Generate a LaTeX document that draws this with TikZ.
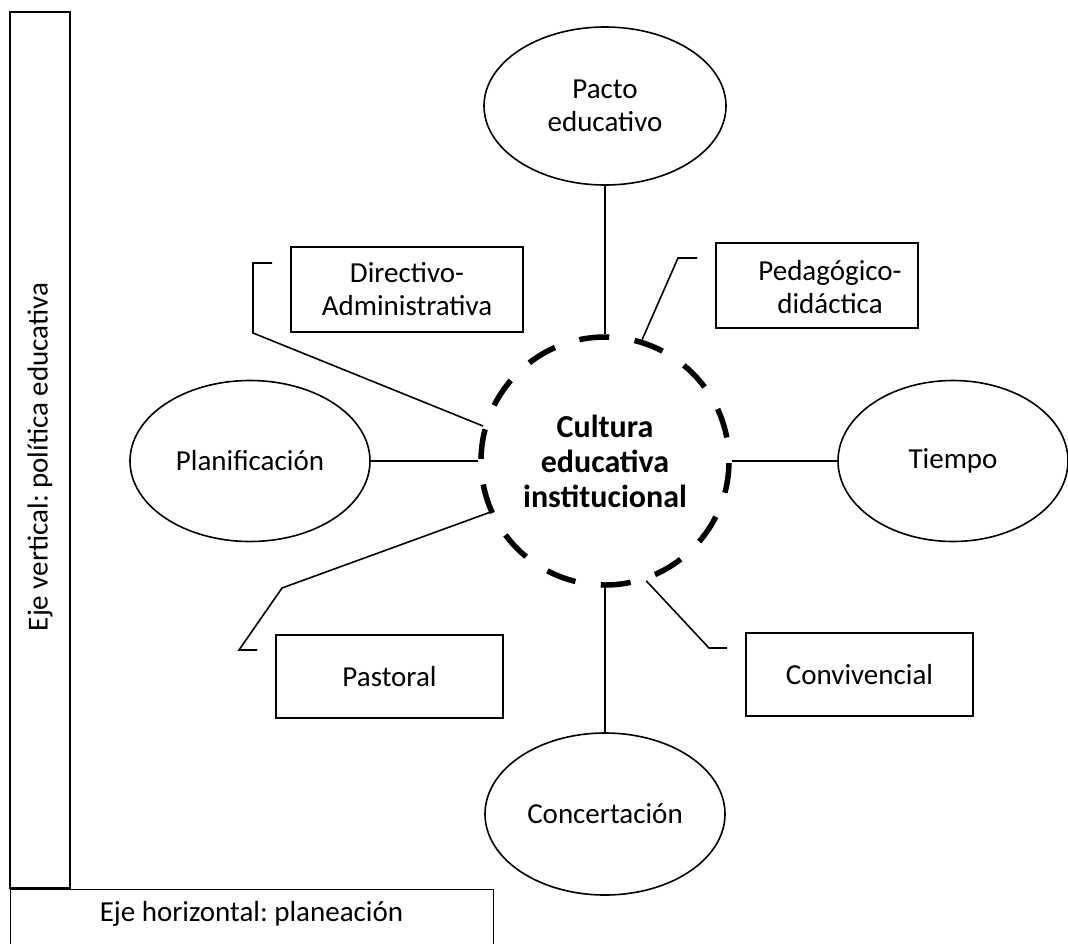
\documentclass[tikz,border=0pt]{standalone}
\usepackage{fontspec}
\setmainfont{Carlito}
\frenchspacing
\usetikzlibrary{shapes.geometric}
\begin{document}
\begin{tikzpicture}[x=1pt,y=-1pt,
  every node/.style={font=\fontsize{29}{33}\selectfont},
  oval/.style={draw, ellipse, line width=1.6pt, inner sep=0pt, align=center},
  tag/.style={draw, rectangle, line width=1.6pt, inner sep=0pt, align=center},
  frame/.style={draw, rectangle, line width=1.4pt, inner sep=0pt},
  hub/.style={draw, circle, line width=5.5pt, dash pattern=on 30pt off 25.65pt, dash phase=32pt,
              minimum size=248pt, inner sep=0pt, align=center,
              font=\fontsize{32}{35}\selectfont\bfseries},
  link/.style={line width=1.6pt}]
\useasboundingbox (0,0) rectangle (1068,943);

% axes frames
\node[frame, minimum width=60pt, minimum height=876pt] (vbox) at (40,450) {};
\node[rotate=90] (vtxt) at (40,457) {Eje vertical: política educativa};
\node[frame, minimum width=483pt, minimum height=90pt, anchor=north west] (hbox) at (10,889) {};
\node (htxt) at (251.5,914) {Eje horizontal: planeación};

% hub
\node[hub] (cult) at (605,461) {Cultura\\educativa\\institucional};

% ellipses
\node[oval, minimum width=242pt, minimum height=158pt] (pacto) at (605,106) {Pacto\\educativo};
\node[oval, minimum width=240pt, minimum height=161pt] (plan) at (250,461) {Planificación};
\node[oval, minimum width=230pt, minimum height=161pt] (tiempo) at (953,461) {Tiempo};
\node[oval, minimum width=240pt, minimum height=162pt] (conc) at (605,814) {Concertación};

% boxes
\node[tag, minimum width=232pt, minimum height=85pt] (dir) at (407,289.5) {Directivo-\\Administrativa};
\node[tag, minimum width=202pt, minimum height=85pt] (ped) at (817,285.5) {};
\node[align=center] (pedtxt) at (830,287) {Pedagógico-\\didáctica};
\node[tag, minimum width=227pt, minimum height=83pt] (pas) at (389.5,676.5) {Pastoral};
\node[tag, minimum width=227pt, minimum height=83pt] (conv) at (859.5,674.5) {Convivencial};

% straight connectors
\draw[link] (pacto.south) -- (cult.north);
\draw[link] (plan.east) -- (cult.west);
\draw[link] (tiempo.west) -- (cult.east);
\draw[link] (conc.north) -- (cult.south);

% bracket connectors
\coordinate (d1) at (272,263);
\coordinate (d2) at (253,263);
\coordinate (d3) at (253,333);
\draw[link] (d1) -- (d2) -- (d3) -- (cult.164);

\coordinate (p1) at (697,258);
\coordinate (p2) at (678,258);
\draw[link] (p1) -- (p2) -- (cult.73);

\coordinate (s1) at (282,588);
\coordinate (s2) at (239,650);
\coordinate (s3) at (257,650);
\draw[link] (cult.204) -- (s1) -- (s2) -- (s3);

\coordinate (c1) at (709,648);
\coordinate (c2) at (727,648);
\draw[link] (cult.-71) -- (c1) -- (c2);
\end{tikzpicture}
\end{document}
